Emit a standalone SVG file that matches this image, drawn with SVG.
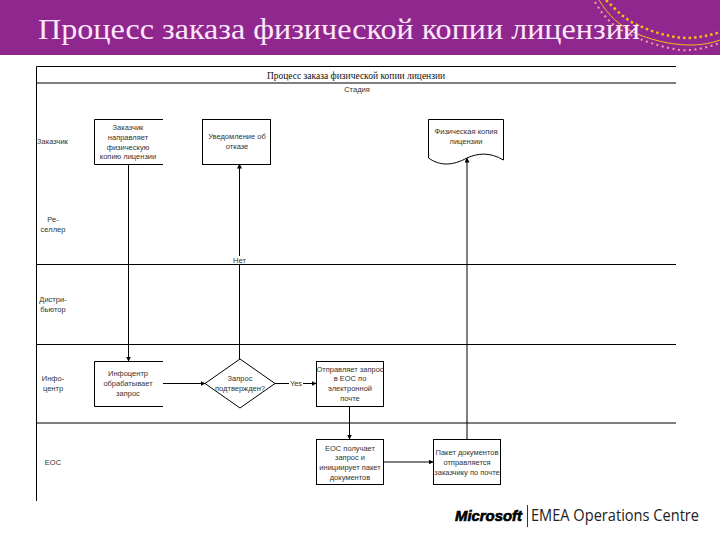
<svg xmlns="http://www.w3.org/2000/svg" width="720" height="540" viewBox="0 0 720 540">
<style>
.l{stroke:#000;stroke-width:1;fill:none}
.n{stroke:#000;stroke-width:1;fill:#fff}
.t{font-family:"Liberation Sans",Arial,sans-serif;font-size:7.500px;fill:#333;text-anchor:middle}
</style>
<defs><marker id="a" markerWidth="5" markerHeight="5" refX="4.500" refY="2.500" orient="auto" markerUnits="userSpaceOnUse"><path d="M0 0L5 2.500L0 5Z" fill="#000"/></marker></defs>
<rect width="720" height="540" fill="#fff"/>
<g id="banner">
<rect width="720" height="55" fill="#90278e"/>
<path d="M606 0C618 12 628 22 640 26C655 33 670 37 685 38C697 38 708 36 720 32" fill="none" stroke="#fdb913" stroke-width="2.500" stroke-dasharray="2.500 3"/>
<path d="M599 0C608 15 620 26 633 32C648 39 670 45 690 45C702 45 712 43 720 40" fill="none" stroke="#fdb913" stroke-width="1"/>
<path d="M595 2C604 18 616 28 627 33C640 40 660 47 680 50C695 51 708 47 720 43" fill="none" stroke="#f0a0a0" stroke-width="2" stroke-dasharray="2 3.500"/>
<text x="38" y="39" font-family="'Liberation Serif',serif" font-size="29" fill="#fde8fb" textLength="602" lengthAdjust="spacingAndGlyphs">Процесс заказа физической копии лицензии</text>
</g>
<g id="frame">
<path class="l" d="M676 66.500H36.500V501M36.500 83H676M36.500 264.500H676M36.500 344.500H676M36.500 423H676"/>
<text x="356" y="79" font-family="'Liberation Serif',serif" font-size="9.500" fill="#111" text-anchor="middle">Процесс заказа физической копии лицензии</text>
<text class="t" x="357" y="92">Стадия</text>
</g>
<g id="lanes">
<text class="t" x="52.500" y="144">Заказчик</text>
<text class="t" x="53" y="222">Ре-</text><text class="t" x="53" y="232">селлер</text>
<text class="t" x="53" y="302">Дистри-</text><text class="t" x="53" y="312">бьютор</text>
<text class="t" x="53" y="381">Инфо-</text><text class="t" x="53" y="391">центр</text>
<text class="t" x="53" y="465">ЕОС</text>
</g>
<g id="connectors">
<path class="l" d="M128.500 164V361" marker-end="url(#a)"/>
<path class="l" d="M239.500 360V164" marker-end="url(#a)"/>
<path class="l" d="M163 383.500H205" marker-end="url(#a)"/>
<path class="l" d="M275 383.500H316" marker-end="url(#a)"/>
<path class="l" d="M349.500 406V439" marker-end="url(#a)"/>
<path class="l" d="M383 462H433" marker-end="url(#a)"/>
<path class="l" d="M467 439V158" marker-end="url(#a)"/>
<rect x="231" y="256" width="16" height="8" fill="#fff"/>
<text class="t" x="239.500" y="263">Нет</text>
<rect x="289" y="379" width="14" height="9" fill="#fff"/>
<text class="t" x="296" y="386">Yes</text>
</g>
<g id="n1"><path class="n" d="M163 119.500H94.500V164.500H163"/>
<text class="t" x="128" y="130">Заказчик</text><text class="t" x="128" y="140">направляет</text><text class="t" x="128" y="150">физическую</text><text class="t" x="128" y="159">копию лицензии</text></g>
<g id="n2"><rect class="n" x="202.500" y="119.500" width="68" height="45"/>
<text class="t" x="237" y="139">Уведомление об</text><text class="t" x="237" y="149">отказе</text></g>
<g id="n3"><path class="n" d="M428.500 119.500H503.500V160C490 152 478 153 467 158C452 166 440 166 428.500 158Z"/>
<text class="t" x="466" y="134">Физическая копия</text><text class="t" x="466" y="144">лицензии</text></g>
<g id="n4"><path class="n" d="M163 361.500H94.500V406.500H163"/>
<text class="t" x="128" y="376">Инфоцентр</text><text class="t" x="128" y="386">обрабатывает</text><text class="t" x="128" y="396">запрос</text></g>
<g id="n5"><path class="n" d="M240 359L275 383.500L240 408L205 383.500Z"/>
<text class="t" x="240" y="381">Запрос</text><text class="t" x="240" y="391">подтвержден?</text></g>
<g id="n6"><rect class="n" x="316.500" y="361.500" width="67" height="45"/>
<text class="t" x="350" y="372">Отправляет запрос</text><text class="t" x="350" y="381">в ЕОС по</text><text class="t" x="350" y="391">электронной</text><text class="t" x="350" y="401">почте</text></g>
<g id="n7"><rect class="n" x="316.500" y="439.500" width="67" height="45"/>
<text class="t" x="350" y="451">ЕОС получает</text><text class="t" x="350" y="460">запрос и</text><text class="t" x="350" y="470">инициирует пакет</text><text class="t" x="350" y="480">документов</text></g>
<g id="n8"><rect class="n" x="433.500" y="439.500" width="67" height="45"/>
<text class="t" x="467" y="455">Пакет документов</text><text class="t" x="467" y="465">отправляется</text><text class="t" x="467" y="475">заказчику по почте</text></g>
<g id="logo">
<text x="455" y="521" font-family="'Liberation Sans',sans-serif" font-size="14" font-weight="bold" font-style="italic" fill="#000" stroke="#000" stroke-width="0.600" textLength="67" lengthAdjust="spacingAndGlyphs">Microsoft</text>
<path d="M527.500 505V527" stroke="#333" stroke-width="1"/>
<text x="531" y="521" font-family="'Open Sans',sans-serif" font-size="15.500" fill="#222" textLength="168" lengthAdjust="spacingAndGlyphs">EMEA Operations Centre</text>
</g>
</svg>
